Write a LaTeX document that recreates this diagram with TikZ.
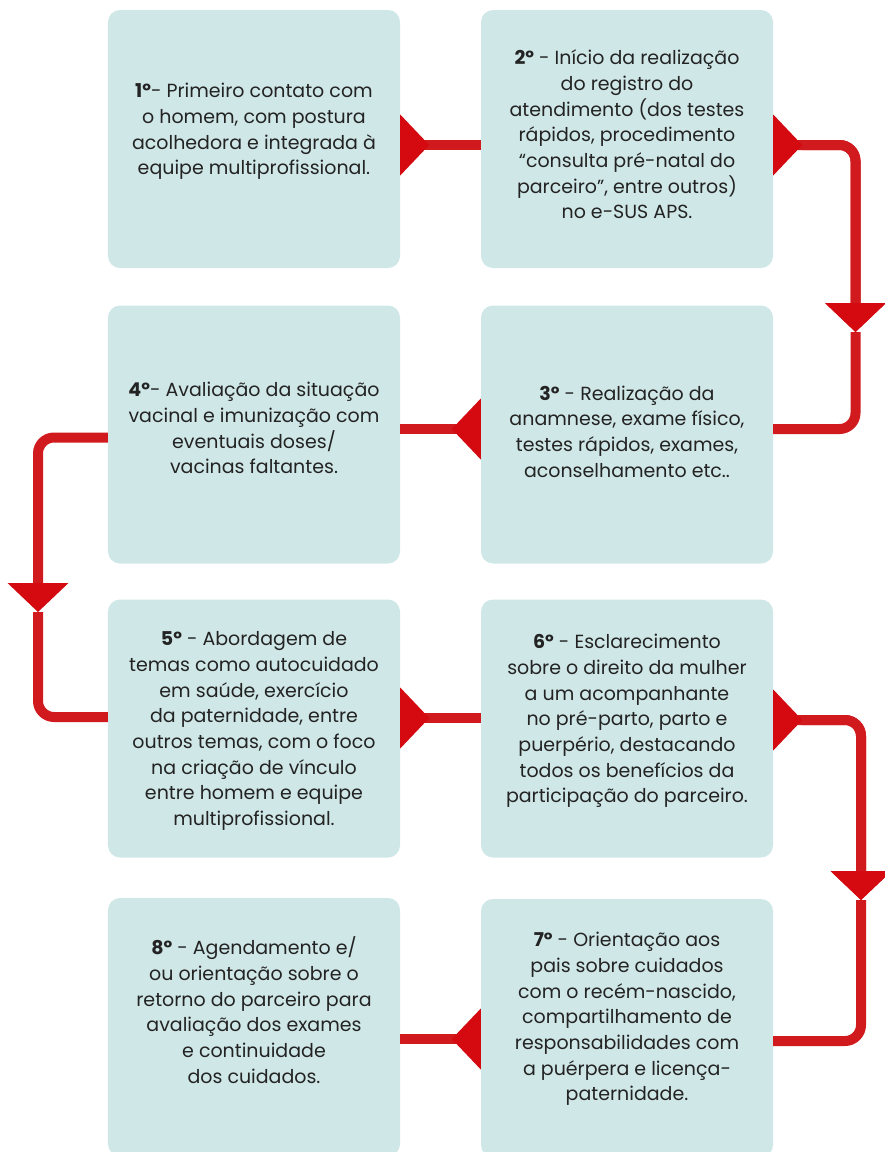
\documentclass[tikz,border=0pt]{standalone}
\usepackage{fontspec}
\setmainfont{Poppins}
\usetikzlibrary{arrows.meta}

\definecolor{boxfill}{RGB}{208,231,231}
\definecolor{linkred}{RGB}{208,26,30}
\definecolor{headred}{RGB}{212,10,16}
\definecolor{txtgray}{RGB}{35,35,35}

\tikzset{
	stepbox/.style={fill=boxfill, rounded corners=12bp,
		minimum width=292bp, minimum height=258bp, inner sep=0pt},
	steptext/.style={align=center, text=txtgray,
		font=\fontsize{19bp}{25.7bp}\selectfont},
	link/.style={draw=linkred, line width=10bp, rounded corners=16bp},
	tailed/.style={postaction={draw, {redtail}-}},
	tailedtip/.style={-{redtip}, postaction={draw, {redtail}-{redtip}}},
	redtip/.tip={Triangle[length=29bp, width=61bp, line width=0pt, color=headred]},
	redtail/.tip={Triangle[reversed, length=29bp, width=61bp, line width=0pt, color=headred]}
}

\begin{document}
\begin{tikzpicture}[x=1bp, y=-1bp]

		\useasboundingbox (0,0) rectangle (885,1152);

		\node[stepbox] (s1) at (254,139) {};
		\node[stepbox] (s2) at (627,139) {};
		\node[stepbox] (s4) at (254,434.5) {};
		\node[stepbox] (s3) at (627,434.5) {};
		\node[stepbox] (s5) at (254,728.5) {};
		\node[stepbox] (s6) at (627,728.5) {};
		\node[stepbox] (s8) at (254,1027) {};
		\node[stepbox] (s7) at (627,1028) {};

		\node[steptext] (t1) at (254,131.5) {\textbf{1º}- Primeiro contato com\\o homem, com postura\\acolhedora e integrada à\\equipe multiprofissional.};
		\node[steptext] (t2) at (627,134.5) {\textbf{2º} - Início da realização\\do registro do\\atendimento (dos testes\\rápidos, procedimento\\“consulta pré-natal do\\parceiro”, entre outros)\\no e-SUS APS.};
		\node[steptext] (t3) at (627,431.5) {\textbf{3º} - Realização da\\anamnese, exame físico,\\testes rápidos, exames,\\aconselhamento etc..};
		\node[steptext] (t4) at (254,428) {\textbf{4º}- Avaliação da situação\\vacinal e imunização com\\eventuais doses/\\vacinas faltantes.};
		\node[steptext] (t5) at (254,731) {\textbf{5º} - Abordagem de\\temas como autocuidado\\em saúde, exercício\\da paternidade, entre\\outros temas, com o foco\\na criação de vínculo\\entre homem e equipe\\multiprofissional.};
		\node[steptext] (t6) at (627,721) {\textbf{6º} - Esclarecimento\\sobre o direito da mulher\\a um acompanhante\\no pré-parto, parto e\\puerpério, destacando\\todos os benefícios da\\participação do parceiro.};
		\node[steptext] (t7) at (627,1019) {\textbf{7º} - Orientação aos\\pais sobre cuidados\\com o recém-nascido,\\compartilhamento de\\responsabilidades com\\a puérpera e licença-\\paternidade.};
		\node[steptext] (t8) at (254,1010) {\textbf{8º} - Agendamento e/\\ou orientação sobre o\\retorno do parceiro para\\avaliação dos exames\\e continuidade\\dos cuidados.};

		\coordinate (d1) at (855.5,332);
		\coordinate (d2) at (38,612);
		\coordinate (d3) at (861,900);

		% 1 -> 2
		\draw[link, tailed] ([yshift=-6bp]s1.east) -- ([yshift=-6bp]s2.west);
		% 2 -> 3
		\draw[link, tailedtip] ([yshift=-6bp]s2.east) -| (d1);
		\draw[link] (d1) |- ([yshift=5.5bp]s3.east);
		% 3 -> 4
		\draw[link, tailed] ([yshift=5.5bp]s3.west) -- ([yshift=5.5bp]s4.east);
		% 4 -> 5
		\draw[link, -{redtip}] ([yshift=-3bp]s4.west) -| (d2);
		\draw[link] (d2) |- ([yshift=11.5bp]s5.west);
		% 5 -> 6
		\draw[link, tailed] ([yshift=10.5bp]s5.east) -- ([yshift=10.5bp]s6.west);
		% 6 -> 7
		\draw[link, tailedtip] ([yshift=8.5bp]s6.east) -| (d3);
		\draw[link] (d3) |- ([yshift=-13bp]s7.east);
		% 7 -> 8
		\draw[link, tailed] ([yshift=-11bp]s7.west) -- ([yshift=-11bp]s7.west -| s8.east);

\end{tikzpicture}
\end{document}
